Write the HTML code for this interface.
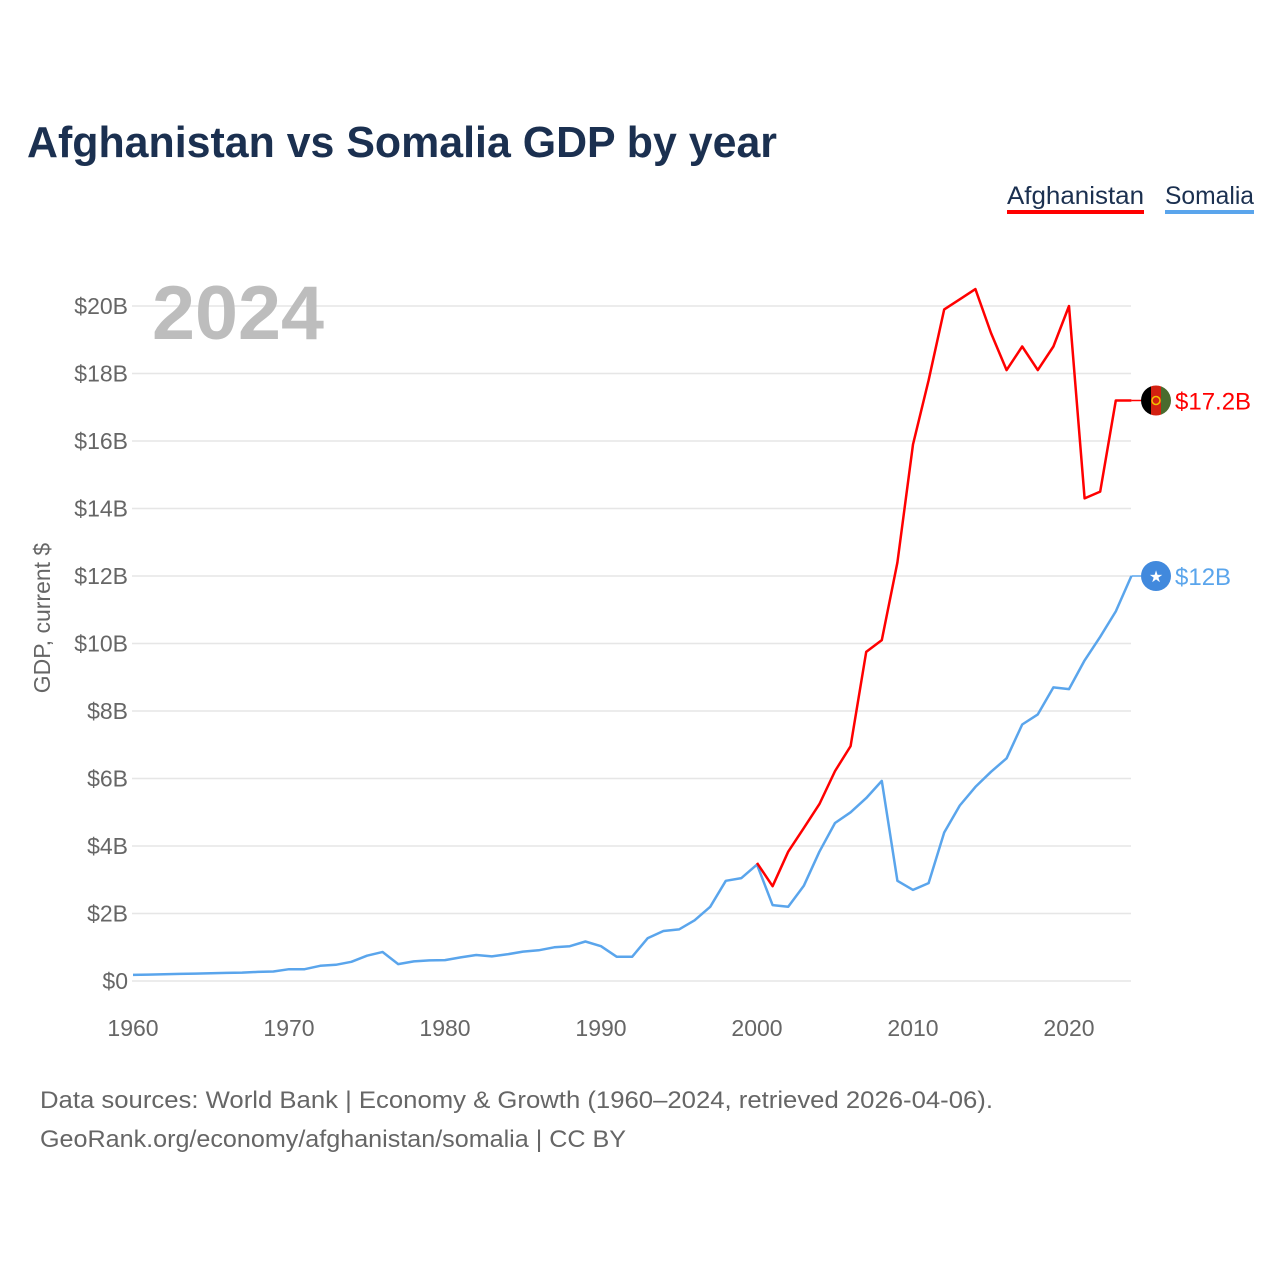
<!DOCTYPE html>
<html><head><meta charset="utf-8"><style>
html,body{margin:0;padding:0;background:#fff;}
body{width:1280px;height:1280px;overflow:hidden;font-family:"Liberation Sans",sans-serif;}
</style></head><body>
<svg width="1280" height="1280" viewBox="0 0 1280 1280" xmlns="http://www.w3.org/2000/svg" style="font-family:'Liberation Sans',sans-serif">
<text x="27" y="157" font-size="44" font-weight="bold" fill="#1b3050" textLength="750" lengthAdjust="spacingAndGlyphs">Afghanistan vs Somalia GDP by year</text>
<g>
<g>
<text x="1007" y="204" font-size="25" fill="#1b3050" textLength="137" lengthAdjust="spacingAndGlyphs">Afghanistan</text>
<rect x="1007" y="210" width="137" height="4" fill="#ff0000"/>
</g>
<g>
<text x="1165" y="204" font-size="25" fill="#1b3050" textLength="89" lengthAdjust="spacingAndGlyphs">Somalia</text>
<rect x="1165" y="210" width="89" height="4" fill="#5aa5ec"/>
</g>
</g>
<g id="grid"></g>
<g id="yticks"></g>
<g id="xticks"></g>
<text x="152" y="339" font-size="76" font-weight="bold" fill="#bdbdbd" textLength="172" lengthAdjust="spacingAndGlyphs">2024</text>
<text transform="translate(50,618) rotate(-90)" text-anchor="middle" font-size="23" fill="#666">GDP, current $</text>
<g id="series"></g>
<g id="ends"></g>
<text x="40" y="1108" font-size="24" fill="#666" textLength="953" lengthAdjust="spacingAndGlyphs">Data sources: World Bank | Economy &amp; Growth (1960–2024, retrieved 2026-04-06).</text>
<text x="40" y="1147" font-size="24" fill="#666" textLength="586" lengthAdjust="spacingAndGlyphs">GeoRank.org/economy/afghanistan/somalia | CC BY</text>
</svg>
<script>
const yTicks = [0,2,4,6,8,10,12,14,16,18,20];
const xTicks = [1960,1970,1980,1990,2000,2010,2020];
const afgYears = [2000,2001,2002,2003,2004,2005,2006,2007,2008,2009,2010,2011,2012,2013,2014,2015,2016,2017,2018,2019,2020,2021,2022,2023,2024];
const afgValues = [3.5,2.81,3.83,4.53,5.24,6.22,6.96,9.75,10.1,12.4,15.9,17.8,19.9,20.2,20.5,19.2,18.1,18.8,18.1,18.8,20.0,14.3,14.5,17.2,17.2];
const somYears = [1960,1961,1962,1963,1964,1965,1966,1967,1968,1969,1970,1971,1972,1973,1974,1975,1976,1977,1978,1979,1980,1981,1982,1983,1984,1985,1986,1987,1988,1989,1990,1991,1992,1993,1994,1995,1996,1997,1998,1999,2000,2001,2002,2003,2004,2005,2006,2007,2008,2009,2010,2011,2012,2013,2014,2015,2016,2017,2018,2019,2020,2021,2022,2023,2024];
const somValues = [0.18,0.19,0.2,0.21,0.22,0.23,0.24,0.25,0.27,0.28,0.35,0.35,0.45,0.48,0.57,0.75,0.86,0.5,0.58,0.61,0.62,0.7,0.77,0.73,0.79,0.87,0.91,1.0,1.03,1.17,1.03,0.72,0.72,1.27,1.48,1.53,1.8,2.2,2.97,3.05,3.45,2.25,2.2,2.82,3.83,4.68,5.0,5.42,5.93,2.97,2.7,2.9,4.4,5.2,5.75,6.2,6.6,7.6,7.9,8.7,8.65,9.5,10.2,10.95,12.0];
const endLabels = ["$17.2B","$12B"];

const NS="http://www.w3.org/2000/svg";
const xS = yr => 133 + (yr-1960)*15.6;
const yS = v => 981 - v*33.75;
function mk(tag, attrs, parent){const e=document.createElementNS(NS,tag);for(const k in attrs)e.setAttribute(k,attrs[k]);parent.appendChild(e);return e;}
const grid=document.getElementById('grid'), yt=document.getElementById('yticks'), xt=document.getElementById('xticks');
yTicks.forEach(v=>{
  const l=mk('line',{x1:132,x2:1131,y1:yS(v),y2:yS(v),stroke:'#e6e6e6','stroke-width':1.5},grid);
  
  
  const t=mk('text',{x:128,y:yS(v)+8,'text-anchor':'end','font-size':23,fill:'#666'},yt);
  t.textContent = v===0?'$0':'$'+v+'B';
  
  
});
xTicks.forEach(yr=>{
  const t=mk('text',{x:xS(yr),y:1036,'text-anchor':'middle','font-size':23,fill:'#666'},xt);
  t.textContent=yr;
  
  
});
const series=document.getElementById('series');
function line(years, vals, color, name){
  const d=years.map((y,i)=>(i?'L':'M')+xS(y).toFixed(1)+','+yS(vals[i]).toFixed(1)).join(' ');
  const p=mk('path',{d:d,fill:'none',stroke:color,'stroke-width':2.5,'stroke-linejoin':'round'},series);
  
  
}
line(somYears, somValues, '#5aa5ec', 'somalia-line');
line(afgYears, afgValues, '#ff0000', 'afghanistan-line');

const ends=document.getElementById('ends');
const ay=yS(afgValues[afgValues.length-1]), sy=yS(somValues[somValues.length-1]);
const ax=xS(2024);
mk('line',{x1:ax,x2:1141,y1:ay,y2:ay,stroke:'#ff0000','stroke-width':1.5},ends);
mk('line',{x1:ax,x2:1141,y1:sy,y2:sy,stroke:'#5aa5ec','stroke-width':1.5},ends);
const fg=mk('g',{},ends);


const cp=mk('clipPath',{id:'fc'},fg);
mk('circle',{cx:1156,cy:ay,r:15},cp);
const fr=mk('g',{'clip-path':'url(#fc)'},fg);
mk('rect',{x:1141,y:ay-15,width:10,height:30,fill:'#000'},fr);
mk('rect',{x:1151,y:ay-15,width:10,height:30,fill:'#d32011'},fr);
mk('rect',{x:1161,y:ay-15,width:10,height:30,fill:'#4a6b2e'},fr);
mk('circle',{cx:1156,cy:ay,r:4,fill:'none',stroke:'#f2c200','stroke-width':1.5},fr);
const at=mk('text',{x:1175,y:ay+9,'font-size':24,fill:'#ff0000'},ends);
at.textContent=endLabels[0];


const sg=mk('g',{},ends);


mk('circle',{cx:1156,cy:sy,r:15,fill:'#4189dd'},sg);
const star=mk('text',{x:1156,y:sy+6,'text-anchor':'middle','font-size':16,fill:'#fff',style:'font-family:DejaVu Sans'},sg);
star.textContent='★';
const st=mk('text',{x:1175,y:sy+9,'font-size':24,fill:'#5aa5ec'},ends);
st.textContent=endLabels[1];


</script>
</body></html>
